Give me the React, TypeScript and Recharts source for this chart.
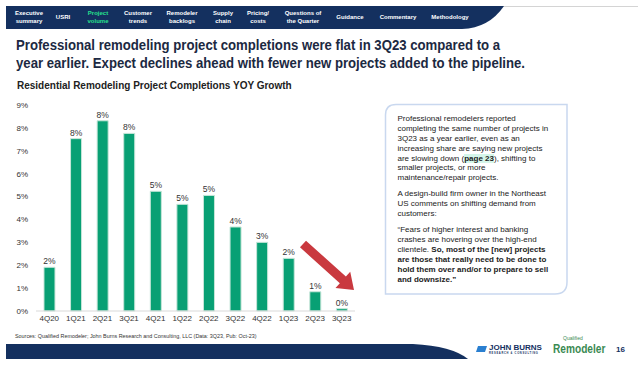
import { BarChart, Bar, XAxis, YAxis, LabelList } from 'recharts';

// quarterly YOY growth in completions, percent
const quarters = ['4Q20', '1Q21', '2Q21', '3Q21', '4Q21', '1Q22', '2Q22', '3Q22', '4Q22', '1Q23', '2Q23', '3Q23'];
const growth = [1.91, 7.53, 8.31, 7.76, 5.23, 4.66, 5.05, 3.67, 3.0, 2.3, 0.84, 0.1];
const yTicks = [0, 1, 2, 3, 4, 5, 6, 7, 8, 9];

const navItems = [
  ['Executive', 'summary'],
  ['USRI', ''],
  ['Project', 'volume'],
  ['Customer', 'trends'],
  ['Remodeler', 'backlogs'],
  ['Supply', 'chain'],
  ['Pricing/', 'costs'],
  ['Questions of', 'the Quarter'],
  ['Guidance', ''],
  ['Commentary', ''],
  ['Methodology', ''],
];
const navX = [29, 63, 98, 138, 182, 223, 258, 303, 350, 398, 450];

const data = quarters.map((q, i) => ({ q, v: growth[i] }));

const NAVY = '#14305f';
const GREEN = '#08a074';
const FONT = '"Liberation Sans", Arial, sans-serif';

// red callout arrow
const arrowPoints = () => {
  const tx = 303, ty = 244, px = 354, py = 290;
  const len = Math.hypot(px - tx, py - ty);
  const ux = (px - tx) / len, uy = (py - ty) / len;
  const nx = -uy, ny = ux;
  const sw = 4.5, hw = 11, hl = 15;
  const bx = px - hl * ux, by = py - hl * uy;
  const pts = [
    [tx + sw * nx, ty + sw * ny],
    [bx + sw * nx, by + sw * ny],
    [bx + hw * nx, by + hw * ny],
    [px, py],
    [bx - hw * nx, by - hw * ny],
    [bx - sw * nx, by - sw * ny],
    [tx - sw * nx, ty - sw * ny],
  ];
  return pts.map((p) => p.join(',')).join(' ');
};

const boxLines: { t: React.ReactNode; bold?: boolean; y: number }[] = [
  { t: 'Professional remodelers reported', y: 119 },
  { t: 'completing the same number of projects in', y: 129 },
  { t: '3Q23 as a year earlier, even as an', y: 139 },
  { t: 'increasing share are saying new projects', y: 149 },
  {
    t: (
      <>
        are slowing down (<span style={{ fontWeight: 'bold', background: '#d4f6ea' }}>page 23</span>), shifting to
      </>
    ),
    y: 158.5,
  },
  { t: 'smaller projects, or more', y: 168 },
  { t: 'maintenance/repair projects.', y: 178 },
  { t: 'A design-build firm owner in the Northeast', y: 194 },
  { t: 'US comments on shifting demand from', y: 204 },
  { t: 'customers:', y: 214 },
  { t: '\u201cFears of higher interest and banking', y: 230 },
  { t: 'crashes are hovering over the high-end', y: 240 },
  {
    t: (
      <>
        clientele. <b>So, most of the [new] projects</b>
      </>
    ),
    y: 250,
  },
  { t: 'are those that really need to be done to', bold: true, y: 260 },
  { t: 'hold them over and/or to prepare to sell', bold: true, y: 270 },
  { t: 'and downsize.\u201d', bold: true, y: 280 },
];

export default function App() {
  return (
    <div style={{ position: 'absolute', left: 0, top: 0, width: 638, height: 369, background: '#fff', fontFamily: FONT, overflow: 'hidden' }}>
      <svg width={638} height={369} style={{ position: 'absolute', left: 0, top: 0 }}>
        <line x1={500} y1={6.5} x2={638} y2={6.5} stroke="#d4d4d4" strokeWidth={1} />
        <path d="M6,6 L504,6 Q489,28 462,29 L6,29 Z" fill={NAVY} />
        <path d="M6,344 L413,344 Q452,346 468,359 L6,359 Z" fill={NAVY} />
        <path d="M396,104.5 L567,104.5 L567,282 Q567,294 555,294 L385.5,294 L385.5,115 Q385.5,104.5 396,104.5 Z" fill="#fff" stroke="#c9d8ef" strokeWidth={1.5} />
        <polygon points={arrowPoints()} fill="#c9393f" />
        {/* John Burns mark */}
        <polygon points="478,346 487,346 485,352 476,352" fill="#2a7fd0" />
      </svg>

      {navItems.map((it, i) => (
        <div
          key={i}
          style={{
            position: 'absolute',
            left: navX[i] - 30,
            width: 60,
            top: it[1] ? 9 : 13,
            textAlign: 'center',
            fontSize: 6,
            lineHeight: '8px',
            fontWeight: 'bold',
            color: i === 2 ? '#26e08e' : '#fff',
          }}
        >
          {it[0]}
          {it[1] && <br />}
          {it[1]}
        </div>
      ))}

      <div
        style={{
          position: 'absolute',
          left: 16,
          top: 36,
          fontSize: 14,
          lineHeight: '18px',
          fontWeight: 'bold',
          color: '#1c2942',
          whiteSpace: 'nowrap',
          transform: 'scaleX(0.94)',
          transformOrigin: 'left top',
        }}
      >
        Professional remodeling project completions were flat in 3Q23 compared to a
        <br />
        year earlier. Expect declines ahead with fewer new projects added to the pipeline.
      </div>
      <div style={{ position: 'absolute', left: 17, top: 80, fontSize: 10, fontWeight: 'bold', color: '#222', whiteSpace: 'nowrap' }}>
        Residential Remodeling Project Completions YOY Growth
      </div>

      <div style={{ position: 'absolute', left: 0, top: 95 }}>
        <BarChart width={370} height={240} data={data} margin={{ top: 10, right: 15, bottom: 4, left: 0 }} barCategoryGap="30%">
          <XAxis
            dataKey="q"
            interval={0}
            height={20}
            tickLine={false}
            tickSize={2}
            tickMargin={2}
            axisLine={{ stroke: '#d9d9d9' }}
            tick={{ fontSize: 8, fill: '#333', fontFamily: FONT }}
          />
          <YAxis
            width={36}
            domain={[0, 9]}
            ticks={yTicks}
            interval={0}
            axisLine={false}
            tickLine={false}
            tickFormatter={(v: number) => `${v}%`}
            tick={{ fontSize: 8, fill: '#333', fontFamily: FONT }}
          />
          <Bar dataKey="v" fill={GREEN} stroke="#c6e6d9" strokeWidth={1} isAnimationActive={false}>
            <LabelList
              dataKey="v"
              position="top"
              offset={3}
              formatter={(v: number) => `${Math.round(v)}%`}
              style={{ fontSize: 8.5, fill: '#333', fontFamily: FONT }}
            />
          </Bar>
        </BarChart>
      </div>

      <div style={{ position: 'absolute', left: 0, top: 0, fontSize: 8, color: '#222' }}>
        {boxLines.map((l, i) => (
          <div key={i} style={{ position: 'absolute', left: 397.5, top: l.y - 5, whiteSpace: 'nowrap', lineHeight: '10px', fontWeight: l.bold ? 'bold' : 'normal' }}>
            {l.t}
          </div>
        ))}
      </div>

      <div style={{ position: 'absolute', left: 15, top: 333, fontSize: 5.4, color: '#333', whiteSpace: 'nowrap' }}>
        Sources: Qualified Remodeler; John Burns Research and Consulting, LLC (Data: 3Q23, Pub: Oct-23)
      </div>

      <div style={{ position: 'absolute', left: 489, top: 343, fontSize: 8, fontWeight: 'bold', color: NAVY, whiteSpace: 'nowrap' }}>
        JOHN BURNS
      </div>
      <div style={{ position: 'absolute', left: 489, top: 352, fontSize: 2.6, fontWeight: 'bold', color: NAVY, whiteSpace: 'nowrap', letterSpacing: 0.7 }}>
        RESEARCH &amp; CONSULTING
      </div>
      <div style={{ position: 'absolute', left: 563, top: 335, fontSize: 5, lineHeight: '6px', color: '#3a8a52', whiteSpace: 'nowrap' }}>Qualified</div>
      <div
        style={{
          position: 'absolute',
          left: 553,
          top: 341,
          fontSize: 13,
          fontWeight: 'bold',
          color: '#3a8a52',
          whiteSpace: 'nowrap',
          transform: 'scaleX(0.78)',
          transformOrigin: 'left top',
        }}
      >
        Remodeler
      </div>
      <div style={{ position: 'absolute', left: 616, top: 345, fontSize: 8, fontWeight: 'bold', color: NAVY }}>16</div>
    </div>
  );
}
